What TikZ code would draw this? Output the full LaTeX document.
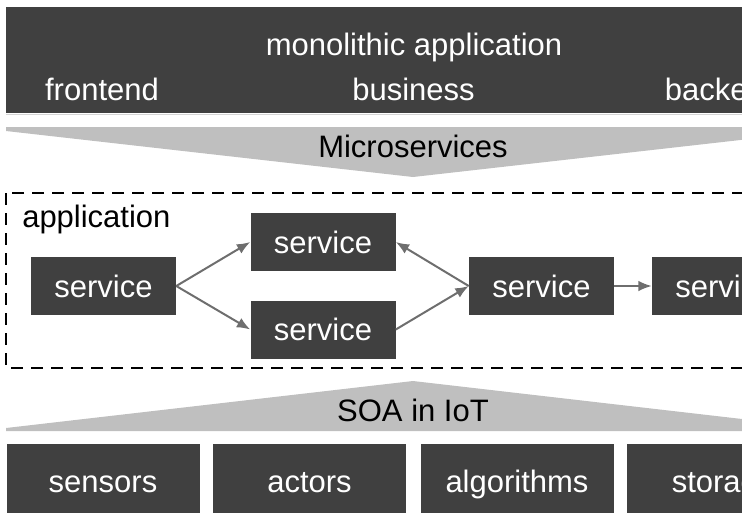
\documentclass[tikz,border=0pt]{standalone}
\usepackage{fontspec}
\setmainfont{Liberation Sans}
\usetikzlibrary{arrows.meta}
\definecolor{boxgray}{HTML}{404040}
\definecolor{chevgray}{HTML}{BFBFBF}
\definecolor{arrowgray}{HTML}{6E6E6E}
\definecolor{rimgray}{HTML}{D4D4D4}
\begin{document}
\begin{tikzpicture}[x=0.75pt,y=-0.75pt,
  txt/.style={font=\fontsize{23.25}{28}\selectfont, inner sep=0pt},
  lbl/.style={txt, anchor=base},
  darkbox/.style={txt, fill=boxgray, text=white},
  svc/.style={darkbox, minimum width=108.75pt, minimum height=43.5pt},
  tile/.style={darkbox, minimum width=144.75pt, minimum height=66.75pt,
               text height=1ex, text depth=0pt},
  chevron/.style={fill=chevgray},
  flow/.style={draw=arrowgray, line width=1.5pt,
               -{Latex[length=10pt,width=8pt]}},
]
\useasboundingbox (0,0) rectangle (742,512);
\clip (0,0) rectangle (742,512);

% monolithic application band
\fill[boxgray] (6,7) rectangle (850,113);
\draw[rimgray, line width=1.2pt] (6,114.5) -- (850,114.5);
\node[lbl, text=white] (mono) at (414,55) {monolithic application};
\node[lbl, text=white] (front) at (102,100) {frontend};
\node[lbl, text=white] (busi) at (413.5,100) {business};
\node[lbl, text=white] (back) at (723.5,100) {backend};

% downward chevron
\fill[chevron] (6,127) -- (820,127) -- (820,131) -- (413,177) -- (6,131) -- cycle;
\node[lbl] (micro) at (413,157) {Microservices};

% application frame
\draw[black, line width=1.5pt, dash pattern=on 9pt off 6pt]
  (6,193) rectangle (900,368);
\node[lbl, anchor=base west] (app) at (22,227) {application};

% services
\node[svc] (s1) at (103.5,286) {service};
\node[svc] (s2) at (323,242) {service};
\node[svc] (s3) at (323,329.5) {service};
\node[svc] (s4) at (541.5,286) {service};
\node[svc] (s5) at (724.5,286) {service};

\draw[flow] (s1.east) -- (s2.west);
\draw[flow] (s1.east) -- (s3.west);
\draw[flow] (s4.west) -- (s2.east);
\draw[flow] (s3.east) -- (s4.west);
\draw[flow] (s4.east) -- (s5.west);

% upward chevron
\fill[chevron] (6,431) -- (820,431) -- (820,428) -- (413,381) -- (6,428) -- cycle;
\node[lbl] (soa) at (413,421) {SOA in IoT};

% IoT building blocks
\node[tile] (sens) at (103,488.5) {sensors};
\node[tile] (act) at (309.5,488.5) {actors};
\node[tile] (algo) at (517,488.5) {algorithms};
\node[tile] (stor) at (723.5,488.5) {storage};
\end{tikzpicture}
\end{document}
